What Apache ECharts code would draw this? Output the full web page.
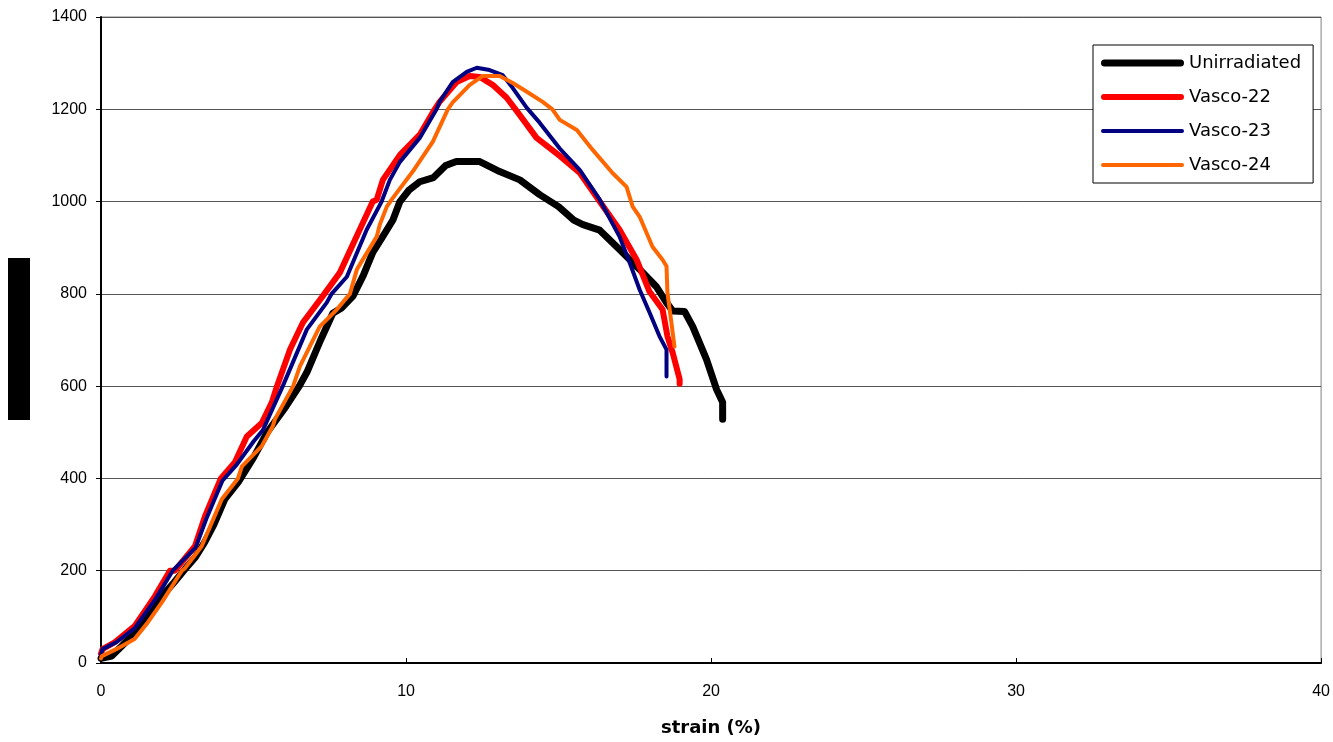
<!DOCTYPE html>
<html>
<head>
<meta charset="utf-8">
<script src="https://cdn.jsdelivr.net/npm/echarts@6/dist/echarts.min.js"></script>
<style>
  html, body { margin: 0; padding: 0; background: #fff; }
  #chart { width: 1333px; height: 742px; }
</style>
</head>
<body>
<div id="chart"></div>
<script>
// Stress-strain curves: [strain (%), load]
const seriesNames = ['Unirradiated', 'Vasco-22', 'Vasco-23', 'Vasco-24'];

const unirradiated = [
  [0, 10], [0.35, 15], [0.7, 38], [1.1, 65], [1.5, 100], [2.0, 145], [2.4, 175],
  [2.75, 203], [3.1, 230], [3.4, 262], [3.7, 300], [4.06, 355], [4.5, 392],
  [5.0, 445], [5.45, 500], [6.0, 550], [6.5, 600], [6.75, 630], [7.2, 700],
  [7.6, 758], [7.9, 770], [8.26, 795], [8.6, 840], [8.91, 890], [9.2, 920],
  [9.57, 960], [9.8, 1000], [10.1, 1025], [10.45, 1043], [10.9, 1052],
  [11.3, 1078], [11.65, 1087], [12.4, 1087], [13.07, 1065], [13.73, 1047],
  [14.38, 1015], [15.0, 989], [15.5, 960], [15.8, 950], [16.35, 938],
  [17.0, 896], [17.66, 853], [18.2, 816], [18.54, 781], [18.74, 763],
  [19.13, 762], [19.4, 729], [19.85, 658], [20.18, 593], [20.38, 565], [20.38, 528]
];

const vasco22 = [
  [0, 20], [0.05, 30], [0.45, 45], [1.1, 80], [1.77, 145], [2.26, 200],
  [2.42, 200], [3.08, 253], [3.41, 318], [3.93, 400], [4.39, 435], [4.78, 491],
  [5.27, 520], [5.6, 565], [5.77, 600], [6.2, 680], [6.62, 738], [7.27, 795],
  [7.83, 846], [8.48, 939], [8.91, 1000], [9.04, 1004], [9.24, 1047],
  [9.8, 1101], [10.45, 1145], [10.94, 1200], [11.1, 1216], [11.66, 1259],
  [12.09, 1272], [12.42, 1270], [12.84, 1253], [13.3, 1225], [13.7, 1190],
  [14.28, 1138], [15.04, 1099], [15.7, 1062], [16.35, 1000], [17.0, 939],
  [17.56, 874], [17.98, 805], [18.41, 766], [18.57, 708], [18.74, 673],
  [18.97, 615], [18.97, 605]
];

const vasco23 = [
  [0, 18], [0.05, 30], [0.5, 45], [1.1, 75], [1.8, 140], [2.35, 200],
  [3.1, 250], [3.45, 312], [3.98, 395], [4.45, 430], [5.0, 480], [5.31, 505],
  [5.96, 600], [6.75, 723], [7.4, 781], [7.56, 800], [8.06, 837], [8.71, 939],
  [9.2, 1000], [9.47, 1047], [9.8, 1086], [10.45, 1138], [11.0, 1200],
  [11.1, 1216], [11.53, 1259], [11.99, 1281], [12.32, 1290], [12.74, 1285],
  [13.17, 1274], [13.5, 1246], [13.96, 1203], [14.38, 1171], [15.04, 1115],
  [15.7, 1068], [16.35, 1004], [17.0, 924], [17.33, 868], [17.66, 809],
  [17.98, 760], [18.31, 708], [18.54, 679], [18.54, 621]
];

const vasco24 = [
  [0, 10], [0.03, 15], [0.5, 30], [1.1, 52], [1.5, 85], [2.0, 132],
  [2.65, 200], [2.75, 205], [3.3, 253], [3.96, 355], [4.49, 400], [4.62, 426],
  [5.27, 470], [5.63, 513], [5.7, 528], [6.3, 600], [6.52, 643], [7.17, 729],
  [7.73, 766], [8.16, 800], [8.39, 853], [9.04, 924], [9.14, 950], [9.37, 989],
  [9.57, 1008], [10.22, 1065], [10.88, 1130], [11.37, 1200], [11.53, 1215],
  [12.09, 1253], [12.51, 1272], [13.07, 1272], [13.5, 1257], [13.96, 1238],
  [14.48, 1216], [14.8, 1200], [15.04, 1177], [15.6, 1155], [16.12, 1112],
  [16.77, 1062], [17.23, 1032], [17.43, 989], [17.66, 967], [18.08, 902],
  [18.41, 874], [18.54, 860], [18.57, 803], [18.7, 738], [18.8, 686]
];

const seriesData = [unirradiated, vasco22, vasco23, vasco24];
const seriesColors = ['#000000', '#ff0000', '#000080', '#ff6600'];
const seriesWidths = [7, 6, 4, 4];

const xTicks = [0, 10, 20, 30, 40];
const yTicks = [0, 200, 400, 600, 800, 1000, 1200, 1400];

// Rounded bar used as a legend key, sized to each series' line width
function legendKey(w) {
  const r = w / 2, L = 83;
  return 'path://M' + r + ',0 L' + (L - r) + ',0 A' + r + ',' + r + ' 0 0 1 ' + (L - r) + ',' + w +
    ' L' + r + ',' + w + ' A' + r + ',' + r + ' 0 0 1 ' + r + ',0 Z';
}

const chart = echarts.init(document.getElementById('chart'), null, { renderer: 'canvas' });

const labelFont = 'Liberation Sans, Arial, sans-serif';

chart.setOption({
  animation: false,
  backgroundColor: '#ffffff',
  grid: {
    left: 101, right: 11, top: 17, bottom: 78,
    show: true, borderColor: '#808080', borderWidth: 1, backgroundColor: 'transparent'
  },
  legend: {
    orient: 'vertical',
    left: 1093, top: 45,
    width: 226,
    padding: [9, 12, 9, 8],
    itemWidth: 83,
    itemHeight: 14,
    itemGap: 16,
    symbolKeepAspect: true,
    backgroundColor: '#ffffff',
    borderColor: '#000000',
    borderWidth: 1,
    textStyle: { fontFamily: 'DejaVu Sans', fontSize: 18, color: '#000' },
    data: seriesNames.map((n, i) => ({ name: n, icon: legendKey(seriesWidths[i]) }))
  },
  xAxis: {
    type: 'value',
    min: xTicks[0], max: xTicks[xTicks.length - 1], interval: 10,
    name: 'strain (%)',
    nameLocation: 'middle',
    nameGap: 56,
    nameTextStyle: { fontFamily: 'DejaVu Sans', fontWeight: 'bold', fontSize: 18, color: '#000' },
    axisLine: { lineStyle: { color: '#000', width: 2 } },
    axisTick: { inside: true, length: 5, lineStyle: { color: '#000' } },
    axisLabel: { fontFamily: labelFont, fontSize: 16, color: '#000', margin: 21 },
    splitLine: { show: false }
  },
  yAxis: {
    type: 'value',
    min: yTicks[0], max: yTicks[yTicks.length - 1], interval: 200,
    axisLine: { show: true, lineStyle: { color: '#000', width: 2 } },
    axisTick: { show: true, length: 5, lineStyle: { color: '#000' } },
    axisLabel: { fontFamily: labelFont, fontSize: 16, color: '#000', margin: 14, formatter: v => String(v) },
    splitLine: { show: true, lineStyle: { color: '#555', width: 1 } }
  },
  graphic: [
    { type: 'rect', left: 8, top: 258, shape: { width: 22, height: 162 }, style: { fill: '#000' }, z: 10 }
  ],
  series: seriesNames.map((name, i) => ({
    name: name,
    type: 'line',
    data: seriesData[i],
    showSymbol: false,
    symbol: 'none',
    color: seriesColors[i],
    lineStyle: { color: seriesColors[i], width: seriesWidths[i], cap: 'round', join: 'round' },
    z: 2 + i
  }))
});
</script>
</body>
</html>
